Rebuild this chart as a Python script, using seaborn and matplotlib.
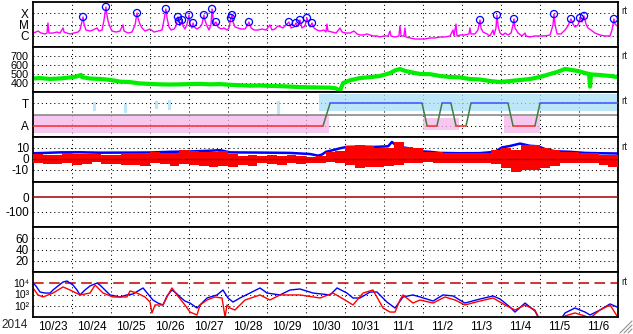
import numpy as np
import pandas as pd
import matplotlib
matplotlib.use("Agg")
import matplotlib.pyplot as plt
import seaborn as sns
from matplotlib.ticker import NullLocator, FixedLocator, FixedFormatter
from matplotlib.lines import Line2D

# ---------------- data ----------------
year_label = "2014"
day_labels = ["10/23", "10/24", "10/25", "10/26", "10/27", "10/28", "10/29", "10/30",
              "10/31", "11/1", "11/2", "11/3", "11/4", "11/5", "11/6"]

# GOES X-ray flux (hours since 10/23 00UT, log10 W/m2)
xray_hours = [0.0, 1.8, 3.1, 4.9, 7.4, 8.6, 9.2, 9.8, 12.3, 14.8, 16.6, 18.5, 19.1, 20.9, 22.8, 25.2, 27.7, 28.9, 30.2, 30.8,
              31.4, 32.6, 35.1, 36.9, 39.4, 40.6, 42.5, 43.7, 44.9, 45.5, 46.2, 47.4, 48.6, 51.1, 53.5, 55.4, 56.0, 58.5, 60.9, 62.8,
              64.0, 64.6, 65.8, 67.1, 68.9, 72.0, 74.5, 76.9, 79.4, 80.6, 81.8, 82.5, 83.7, 84.9, 86.8, 88.0, 89.2, 89.8, 90.5, 91.7,
              92.3, 93.5, 94.8, 96.0, 96.6, 97.8, 98.5, 99.1, 100.9, 102.8, 104.0, 105.2, 105.8, 107.1, 108.3, 109.5, 110.2, 110.8, 111.4, 112.6,
              113.8, 115.7, 117.5, 119.4, 120.6, 121.8, 122.5, 123.1, 124.3, 126.2, 128.0, 130.5, 131.7, 132.9, 134.2, 136.0, 138.5, 140.9, 143.4, 145.8,
              147.1, 148.9, 150.8, 152.6, 153.8, 155.1, 156.3, 157.5, 158.8, 160.6, 161.8, 163.1, 164.3, 165.5, 167.4, 168.6, 169.8, 170.5, 171.7, 172.9,
              174.8, 176.6, 179.1, 180.3, 180.9, 181.5, 184.0, 186.5, 188.9, 190.2, 192.6, 195.1, 197.5, 199.4, 201.2, 203.7, 205.5, 207.4, 209.2, 211.7,
              213.5, 216.0, 218.5, 219.7, 220.3, 222.8, 225.2, 225.8, 226.5, 228.3, 228.9, 229.5, 232.0, 235.1, 238.2, 241.2, 244.3, 247.4, 250.5, 253.5,
              256.6, 258.5, 259.1, 260.3, 260.9, 262.8, 265.8, 268.3, 268.9, 269.5, 272.0, 273.8, 275.1, 275.7, 276.9, 279.4, 281.2, 283.1, 283.7, 284.9,
              285.5, 286.2, 287.4, 289.2, 290.5, 292.3, 294.2, 295.4, 296.0, 296.6, 298.5, 300.9, 302.8, 303.4, 305.8, 308.9, 312.0, 315.1, 318.2, 320.0,
              320.6, 321.2, 322.5, 324.9, 327.4, 329.2, 331.1, 332.3, 333.5, 335.4, 336.6, 337.8, 339.1, 340.3, 341.5, 343.4, 345.8, 348.9, 352.0, 355.1,
              356.3, 357.5, 358.2, 359.4]
xray_log = [-5.76, -5.67, -5.58, -5.76, -5.84, -5.76, -4.87, -5.76, -5.76, -5.67, -5.76, -5.31, -5.67, -5.76, -5.84, -5.76, -5.67, -5.49, -4.69, -4.33,
            -4.96, -5.49, -5.58, -5.49, -5.31, -5.58, -5.49, -4.60, -3.44, -4.16, -4.69, -5.22, -5.58, -5.67, -5.58, -5.04, -5.58, -5.76, -5.67, -5.04,
            -3.98, -4.42, -4.96, -5.31, -5.58, -5.40, -5.67, -5.58, -5.49, -4.60, -3.62, -4.42, -5.22, -5.49, -5.40, -5.13, -4.33, -4.69, -5.04, -4.60,
            -5.13, -5.40, -4.96, -4.16, -4.96, -5.31, -4.87, -5.22, -5.40, -5.22, -4.96, -4.16, -4.60, -5.13, -5.49, -5.04, -3.62, -4.42, -5.04, -4.78,
            -5.22, -5.40, -5.31, -5.49, -5.31, -4.42, -4.16, -4.78, -5.22, -5.31, -5.40, -5.40, -5.13, -4.78, -5.31, -5.49, -5.49, -5.40, -5.49, -5.04,
            -5.49, -5.40, -5.13, -5.22, -5.31, -5.13, -4.96, -4.78, -5.31, -5.22, -4.87, -5.13, -4.60, -5.31, -5.13, -4.42, -5.04, -5.22, -4.87, -5.31,
            -5.49, -5.58, -5.49, -5.67, -4.96, -5.58, -5.67, -5.76, -5.31, -5.67, -5.76, -5.76, -5.58, -5.84, -5.93, -5.93, -5.84, -5.93, -6.02, -6.02,
            -6.11, -6.02, -6.02, -5.58, -6.02, -6.11, -6.02, -5.13, -6.02, -6.02, -5.31, -6.11, -6.20, -6.29, -6.29, -6.29, -6.20, -6.20, -6.11, -6.11,
            -6.02, -5.49, -6.02, -4.96, -6.02, -5.93, -5.93, -5.84, -5.31, -5.84, -5.84, -5.49, -4.60, -5.31, -5.67, -5.84, -6.02, -5.49, -5.93, -5.31,
            -4.16, -5.13, -5.76, -5.93, -5.76, -5.93, -5.76, -5.04, -4.51, -5.31, -5.76, -6.02, -5.76, -6.02, -6.11, -6.02, -6.02, -6.02, -5.93, -5.04,
            -4.07, -4.96, -5.84, -5.84, -5.49, -5.13, -4.51, -4.96, -5.22, -5.04, -4.42, -4.78, -4.24, -4.96, -5.31, -5.49, -5.76, -5.93, -6.02, -6.02,
            -5.49, -4.51, -4.96, -5.13]
flare_hours = [30.8, 44.9, 64.0, 81.8, 89.2, 89.8, 91.7, 96.0, 98.5, 105.2, 110.2, 112.6, 121.8, 122.5, 132.9, 157.5, 161.8, 164.3,
               168.6, 171.7, 275.1, 285.5, 296.0, 320.6, 331.1, 336.6, 339.1, 357.5]
flare_log = [-4.33, -3.44, -3.98, -3.62, -4.33, -4.69, -4.60, -4.16, -4.87, -4.16, -3.62, -4.78, -4.42, -4.16, -4.78, -4.78, -4.87, -4.60,
             -4.42, -4.87, -4.60, -4.16, -4.51, -4.07, -4.51, -4.42, -4.24, -4.51]
xray_ticks = [1e-6, 1e-5, 1e-4]
xray_ticklabels = ["C", "M", "X"]

# solar wind speed (km/s)
wind_hours = [0.0, 4.3, 10.5, 16.6, 22.8, 26.5, 29.5, 30.2, 35.1, 41.2, 47.4, 53.5, 59.7, 65.8, 72.0, 78.2, 84.3, 90.5, 96.6, 102.8,
              108.9, 115.1, 121.2, 127.4, 133.5, 139.7, 145.8, 152.0, 158.2, 164.3, 170.5, 176.6, 182.8, 186.5, 188.9, 190.8, 195.1, 201.2, 207.4, 213.5,
              219.7, 222.8, 225.8, 228.9, 232.0, 235.1, 238.2, 244.3, 250.5, 256.6, 262.8, 268.9, 275.1, 281.2, 287.4, 293.5, 299.7, 305.8, 312.0, 318.2,
              322.5, 327.4, 331.7, 335.4, 339.7, 342.2, 342.8, 343.4, 348.9, 355.1, 359.4]
wind_speed = [450, 455, 445, 450, 462, 470, 490, 465, 450, 445, 435, 415, 410, 395, 390, 385, 383, 385, 388, 390,
              385, 388, 380, 375, 370, 372, 368, 365, 360, 355, 352, 350, 348, 340, 310, 400, 430, 455, 465, 478,
              510, 540, 555, 535, 522, 511, 500, 498, 478, 467, 462, 444, 439, 422, 411, 422, 433, 444, 467, 500,
              522, 556, 544, 533, 511, 500, 360, 495, 489, 478, 467]
wind_ticks = [400, 500, 600, 700]

# IMF sector (T = +1, A = -1)
sector_hours = [0, 178.5, 182.8, 239.4, 242.5, 248.6, 251.7, 257.2, 260.3, 266.5, 269.5, 292.3, 295.4, 308.9, 312.0, 360]
sector_level = [-1, -1, 1, 1, -1, -1, 1, 1, -1, -1, 1, 1, -1, -1, 1, 1]
away_start = [0, 240, 290]
away_end = [182, 262, 312]
away_lo = [-1.6, -1.35, -1.6]
away_hi = [0.0, -0.3, -0.15]
toward_start = [37, 56, 75, 83, 150, 176]
toward_end = [39, 58, 77, 85, 152, 360]
toward_lo = [0.3, 0.1, 0.5, 0.4, 0.0, 0.35]
toward_hi = [1.1, 0.9, 1.2, 1.3, 1.2, 1.85]
sector_ticks = [1, -1]
sector_ticklabels = ["T", "A"]

# IMF Bt (nT) and Bz envelope per 6 h bin
bt_hours = [0.0, 7.4, 16.6, 28.9, 41.2, 59.7, 72.0, 84.3, 96.6, 108.9, 115.1, 121.2, 139.7, 158.2, 170.5, 175.4, 177.8, 180.3, 184.6, 188.9,
            193.2, 201.2, 210.5, 218.5, 220.9, 222.8, 225.8, 232.0, 238.2, 244.3, 250.5, 262.8, 275.1, 284.3, 288.6, 293.5, 299.7, 305.8, 310.8, 315.1,
            321.2, 330.5, 339.7, 348.9, 359.4]
bt_value = [5.2, 5.5, 6.0, 6.1, 5.7, 5.8, 5.9, 6.5, 6.8, 7.5, 8.0, 6.0, 5.8, 5.5, 4.5, 3.0, 4.0, 6.5, 8.0, 9.7,
            11.0, 11.2, 11.0, 11.5, 15.5, 13.0, 11.0, 9.5, 7.0, 6.5, 5.5, 5.2, 5.3, 6.5, 10.5, 11.8, 14.0, 12.0, 11.5, 9.0,
            7.0, 6.5, 5.5, 5.2, 5.0]
bz_hi = [4.5, 3.6, 3.6, 5.5, 4.6, 4.6, 4.6, 3.6, 3.6, 5.5, 5.0, 4.6, 6.4, 5.5, 5.5, 8.0, 7.3, 6.4, 6.4, 7.3,
         4.6, 2.7, 3.6, 2.7, 3.6, 2.7, 3.6, 2.7, 1.8, 2.7, 6.4, 7.3, 11.8, 12.8, 11.8, 10.0, 10.0, 15.5, 10.9, 10.0,
         6.4, 6.4, 5.5, 5.5, 5.5, 5.5, 5.5, 8.2, 10.0, 8.2, 12.8, 12.8, 10.0, 8.2, 6.4, 6.4, 5.5, 5.5, 3.6, 3.6]
bz_lo = [-3.6, -4.5, -5.0, -3.6, -5.5, -4.6, -2.7, -4.6, -4.6, -5.5, -5.5, -6.4, -3.6, -4.6, -6.4, -4.6, -5.5, -6.4, -7.3, -6.4,
         -7.3, -5.5, -6.4, -3.6, -4.6, -5.5, -3.6, -4.6, -3.6, -3.6, -2.7, -3.6, -5.5, -8.2, -7.3, -7.3, -6.4, -5.5, -3.6, -3.6,
         -2.7, -3.6, -3.6, -3.6, -3.6, -3.6, -3.6, -4.6, -8.2, -11.8, -10.0, -10.0, -8.2, -6.4, -3.6, -3.6, -3.6, -3.6, -5.5, -7.3]
bz_bin_hours = 6
imf_ticks = [10, 0, -10]
imf_ticklabels = ["10", "0", "-10"]

dst_ticks = [0, -100]
dst_ticklabels = ["0", "-100"]
kp_ticks = [20, 40, 60]

# >2 MeV electron flux (log10), two satellites
e_blue_hours = [0.0, 1.8, 4.3, 7.4, 10.5, 12.3, 15.4, 18.5, 20.9, 22.8, 24.6, 27.1, 28.9, 32.0, 35.1, 39.4, 41.2, 44.3, 47.4, 50.5,
                53.5, 57.8, 61.5, 64.6, 67.7, 70.8, 73.8, 76.9, 80.0, 82.5, 85.5, 88.0, 90.5, 93.5, 96.6, 100.9, 102.8, 107.1, 113.2, 116.9,
                120.0, 123.1, 127.4, 133.5, 139.7, 144.0, 152.0, 158.2, 164.3, 172.3, 182.8, 187.1, 193.2, 196.9, 201.2, 207.4, 211.7, 217.8, 222.8, 227.7,
                233.8, 238.2, 246.2, 252.3, 258.5, 265.8, 275.1, 283.1, 287.4, 293.5, 296.6, 302.8, 308.9, 312.0, 324.3, 327.4, 333.5, 339.7, 342.8, 348.9,
                355.1, 359.4]
e_blue_log = [4.02, 3.76, 3.22, 3.13, 3.13, 3.40, 3.76, 4.11, 4.20, 4.02, 3.84, 3.40, 2.96, 3.40, 3.76, 4.02, 3.84, 3.40, 2.96, 2.87,
              2.78, 2.96, 3.04, 3.31, 3.58, 3.04, 2.51, 2.24, 2.07, 2.87, 3.40, 3.13, 2.78, 2.42, 2.24, 1.80, 2.07, 2.69, 2.96, 3.40,
              2.69, 2.33, 2.69, 3.13, 3.58, 3.13, 2.96, 3.40, 3.49, 3.13, 2.96, 3.58, 3.13, 2.69, 2.69, 3.22, 3.22, 2.33, 1.80, 2.78,
              2.96, 2.78, 2.42, 2.96, 2.87, 2.24, 2.60, 2.87, 2.60, 1.89, 1.44, 2.24, 1.53, 0.70, 0.70, 1.36, 1.80, 1.44, 1.18, 1.62,
              2.16, 1.89]
e_red_hours = [0.0, 3.1, 6.2, 12.3, 18.5, 22.8, 28.9, 35.1, 38.2, 43.1, 49.2, 57.8, 59.7, 64.0, 68.9, 72.0, 73.2, 75.1, 80.0, 83.1,
               85.5, 88.6, 93.5, 96.6, 100.9, 102.8, 107.1, 112.0, 116.3, 118.2, 119.4, 121.2, 124.3, 127.4, 130.5, 139.7, 145.8, 152.0, 164.3, 176.6,
               184.6, 192.0, 196.9, 203.1, 209.2, 215.4, 219.7, 222.8, 225.8, 227.7, 233.8, 238.2, 246.2, 253.5, 259.7, 265.8, 275.1, 283.1, 290.5, 296.6,
               302.8, 308.9, 312.0, 324.3, 327.4, 333.5, 339.7, 342.8, 348.9, 355.1, 359.4]
e_red_log = [3.58, 2.96, 2.78, 3.13, 3.67, 3.40, 2.96, 3.13, 3.84, 3.13, 2.78, 2.78, 3.31, 3.13, 2.78, 2.33, 1.36, 2.07, 2.07, 2.96,
             3.58, 2.96, 2.07, 1.44, 1.18, 2.07, 2.51, 2.78, 2.69, 1.00, 2.07, 1.80, 1.62, 2.07, 2.51, 2.96, 2.51, 2.96, 2.96, 2.69,
             3.13, 2.51, 2.07, 3.13, 3.40, 1.80, 1.44, 1.44, 2.51, 2.96, 2.24, 2.51, 2.24, 2.78, 2.51, 2.07, 2.42, 2.69, 2.07, 1.62,
             2.07, 1.62, 0.70, 0.70, 1.09, 1.36, 1.09, 0.90, 1.62, 2.07, 1.09]
electron_ticks = [1e2, 1e3, 1e4]
electron_ticklabels = ["10\u00b2", "10\u00b3", "10\u2074"]
electron_alert = 1e4

assert len(xray_hours) == len(xray_log)
assert len(wind_hours) == len(wind_speed)
assert len(bt_hours) == len(bt_value)
assert len(e_blue_hours) == len(e_blue_log)
assert len(e_red_hours) == len(e_red_log)
assert len(bz_hi) == len(bz_lo) == 60

# ---------------- style ----------------
sns.set_style("white")
plt.rcParams["font.family"] = ["Liberation Sans", "DejaVu Sans"]
FS = 8.5
DOT = (0, (1, 3))

fig = plt.figure(figsize=(6.33, 3.34), dpi=100)
axes = fig.subplots(7, 1, sharex=True, gridspec_kw=dict(hspace=0))
fig.subplots_adjust(left=33 / 633, right=618 / 633, top=1 - 2 / 334, bottom=1 - 317 / 334)
ax1, ax2, ax3, ax4, ax5, ax6, ax7 = axes

day_edges = np.arange(24, 360, 24)
day_centers = np.arange(12, 360, 24)

for ax in axes:
    ax.set_facecolor("white")
    ax.set_xlim(0, 360)
    for s in ax.spines.values():
        s.set_visible(True)
        s.set_color("black")
        s.set_linewidth(1.3)
    for xe in day_edges:
        ax.axvline(xe, color="black", lw=0.75, ls=DOT, zorder=0.5)

ax7.xaxis.set_major_locator(FixedLocator(day_centers))
ax7.xaxis.set_major_formatter(FixedFormatter(day_labels))
ax7.xaxis.set_minor_locator(NullLocator())
fig.text(15 / 633, 1 - 325 / 334, year_label, ha="center", va="center", fontsize=FS)

def ygrid(ax, levels):
    for lv in levels:
        ax.axhline(lv, color="black", lw=0.75, ls=DOT, zorder=0.5)

# panel 1: X-ray
ax1.set_yscale("log")
ax1.set_ylim(1e-7, 1e-3)
ygrid(ax1, xray_ticks)
sns.lineplot(x=xray_hours, y=10 ** np.array(xray_log), ax=ax1, color="#ff00ff", lw=1.0,
             estimator=None, sort=False)
sns.scatterplot(x=flare_hours, y=10 ** np.array(flare_log), ax=ax1, s=26, marker="o", zorder=5)
pts = ax1.collections[-1]
pts.set_facecolor("none")
pts.set_edgecolor("#0000ff")
pts.set_linewidth(0.9)
ax1.yaxis.set_major_locator(FixedLocator(xray_ticks))
ax1.yaxis.set_major_formatter(FixedFormatter(xray_ticklabels))
ax1.yaxis.set_minor_locator(NullLocator())

# panel 2: solar wind
ax2.set_ylim(300, 800)
ygrid(ax2, wind_ticks)
sns.lineplot(x=wind_hours, y=wind_speed, ax=ax2, color="#00ee00", lw=3.0, estimator=None, sort=False)
ax2.set_yticks(wind_ticks)
ax2.set_yticklabels([str(v) for v in wind_ticks])

# panel 3: sector
ax3.set_ylim(-2, 2)
ygrid(ax3, sector_ticks)
for s0, s1, lo, hi in zip(away_start, away_end, away_lo, away_hi):
    ax3.fill_between([s0, s1], [lo, lo], [hi, hi], color="#f5b5ec", alpha=0.75, lw=0, zorder=1)
for s0, s1, lo, hi in zip(toward_start, toward_end, toward_lo, toward_hi):
    ax3.fill_between([s0, s1], [lo, lo], [hi, hi], color="#a9def8", alpha=0.75, lw=0, zorder=1)
ax3.axhline(0, color="#808080", lw=1.1, zorder=2)
rows = []
for i in range(len(sector_hours) - 1):
    a, b = sector_level[i], sector_level[i + 1]
    kind = "A" if (a == b and a < 0) else ("T" if a == b else "turn")
    rows.append((sector_hours[i], a, i, kind))
    rows.append((sector_hours[i + 1], b, i, kind))
sec = pd.DataFrame(rows, columns=["hour", "level", "seg", "kind"])
sns.lineplot(data=sec, x="hour", y="level", units="seg", hue="kind", estimator=None, sort=False,
             palette={"A": "#ff2a2a", "T": "#3a55ff", "turn": "#3f7f3f"}, lw=1.1, legend=False, ax=ax3, zorder=3)
ax3.set_yticks(sector_ticks)
ax3.set_yticklabels(sector_ticklabels)

# panel 4: IMF
ax4.set_ylim(-21, 20)
ygrid(ax4, [10, -10])
sns.lineplot(x=bt_hours, y=bt_value, ax=ax4, color="#0000ff", lw=1.8, estimator=None, sort=False)
bz_edges = np.arange(len(bz_hi) + 1) * bz_bin_hours
ax4.fill_between(bz_edges, bz_lo + [bz_lo[-1]], bz_hi + [bz_hi[-1]], step="post", color="#ff0000", lw=0, zorder=3)
ax4.axhline(0, color="#a00000", lw=1.0, zorder=4)
ax4.set_yticks(imf_ticks)
ax4.set_yticklabels(imf_ticklabels)

# panel 5: Dst
ax5.set_ylim(-200, 100)
ygrid(ax5, [-100])
ax5.axhline(0, color="#a00000", lw=1.1, zorder=3)
ax5.set_yticks(dst_ticks)
ax5.set_yticklabels(dst_ticklabels)

# panel 6
ax6.set_ylim(0, 80)
ygrid(ax6, kp_ticks)
ax6.set_yticks(kp_ticks)
ax6.set_yticklabels([str(v) for v in kp_ticks])

# panel 7: electrons
ax7.set_yscale("log")
ax7.set_ylim(1e1, 1e5)
ygrid(ax7, [1e2, 1e3])
ax7.axhline(electron_alert, color="#c00000", lw=1.1, ls=(0, (7, 3.5)), zorder=2)
sns.lineplot(x=e_blue_hours, y=10 ** np.array(e_blue_log), ax=ax7, color="#0000ff", lw=1.0, estimator=None, sort=False)
sns.lineplot(x=e_red_hours, y=10 ** np.array(e_red_log), ax=ax7, color="#ff0000", lw=1.0, estimator=None, sort=False)
ax7.yaxis.set_major_locator(FixedLocator(electron_ticks))
ax7.yaxis.set_major_formatter(FixedFormatter(electron_ticklabels))
ax7.yaxis.set_minor_locator(NullLocator())

for ax in axes:
    ax.set_xlabel("")
    ax.set_ylabel("")
    ax.tick_params(which="both", length=0, labelsize=FS, pad=3, colors="black")
ax2.tick_params(axis="y", labelsize=7.8, pad=3)
ax7.tick_params(axis="y", labelsize=7.6, pad=3)

for ax, fy in [(ax1, 0.80), (ax2, 0.80), (ax3, 0.80), (ax4, 0.78), (ax7, 0.78)]:
    ax.text(1.006, fy, "rt", transform=ax.transAxes, fontsize=7, ha="left", va="center")

# window resize grip in the lower right corner
for k in range(3):
    off = 4 * k
    fig.add_artist(Line2D([(620 + off) / 633, 632 / 633], [1 / 334, (13 - off) / 334],
                          transform=fig.transFigure, color="#909090", lw=0.8))

fig.savefig("out.png", dpi=100)
